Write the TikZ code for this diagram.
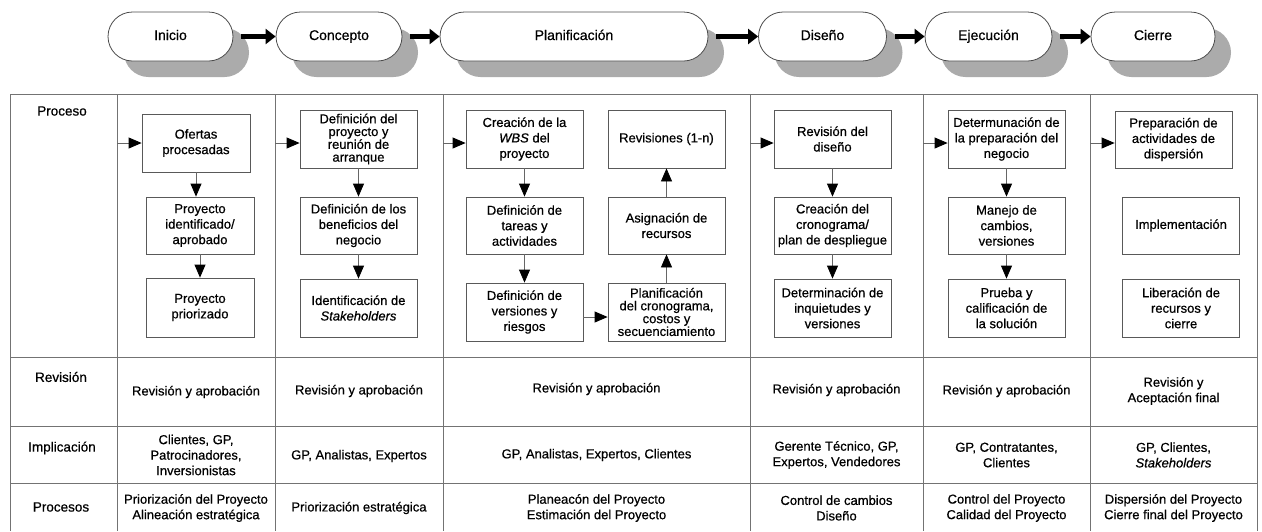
\documentclass[tikz,border=0pt]{standalone}
\usepackage{fontspec}
\setmainfont{Liberation Sans}[FakeBold=0.6]
\newfontfamily\heavy{Liberation Sans}[FakeBold=0.6]
\usetikzlibrary{arrows.meta,shadows}
\begin{document}
\begin{tikzpicture}[x=1pt,y=-1pt,
  pill/.style={draw=black!70, line width=0.8pt, fill=white, rounded corners=24.5pt,
    minimum height=49pt, inner sep=0pt, text height=10pt, text depth=3pt,
    font=\fontsize{14}{16}\selectfont,
    drop shadow={shadow xshift=16pt, shadow yshift=-16pt, fill=black!33, opacity=1}},
  bigarrow/.style={line width=4.5pt, shorten <=8pt, -{Triangle[length=10pt,width=15pt]}},
  box/.style={draw=black!65, line width=0.8pt, fill=white, minimum width=117pt,
    minimum height=57pt, inner sep=1pt, align=center, font=\fontsize{13}{15.5}\selectfont},
  tight/.style={font=\fontsize{13}{12.8}\selectfont},
  conn/.style={draw=black!60, line width=0.8pt, -{Triangle[length=13pt,width=11pt,color=black]}},
  grid/.style={draw=black!55, line width=0.9pt},
  rowlabel/.style={font=\fontsize{13.5}{15}\selectfont, inner sep=0pt},
  cell/.style={align=center, inner sep=0pt, font=\fontsize{13}{15.5}\selectfont}]
\useasboundingbox (0,0) rectangle (1262,531);

% header pills
\node[pill, minimum width=125pt] (hIni) at (170.5,36.5) {Inicio};
\node[pill, minimum width=126pt] (hCon) at (339,36.5) {Concepto};
\node[pill, minimum width=268pt] (hPla) at (574,36.5) {Planificación};
\node[pill, minimum width=128pt] (hDis) at (822.5,36.5) {Diseño};
\node[pill, minimum width=127pt] (hEje) at (988.5,36.5) {Ejecución};
\node[pill, minimum width=124pt] (hCie) at (1153,36.5) {Cierre};
\draw[bigarrow] (hIni.east) -- (hCon.west);
\draw[bigarrow] (hCon.east) -- (hPla.west);
\draw[bigarrow] (hPla.east) -- (hDis.west);
\draw[bigarrow] (hDis.east) -- (hEje.west);
\draw[bigarrow] (hEje.east) -- (hCie.west);

% table grid
\foreach \yy in {94,357,426,483} \draw[grid] (10,\yy) -- (1257,\yy);
\foreach \xx in {10,117,275,443,750,923,1090,1257} \draw[grid] (\xx,94) -- (\xx,531);

% row labels
\node[rowlabel] (lProc) at (62,111) {Proceso};
\node[rowlabel] (lRev) at (61,377) {Revisión};
\node[rowlabel] (lImp) at (62,448) {Implicación};
\node[rowlabel] (lPrs) at (61,507) {Procesos};

% Inicio
\node[box, minimum width=108pt, minimum height=58pt] (i1) at (196,143) {Ofertas\\procesadas};
\node[box, minimum width=108pt] (i2) at (200,225.5) {Proyecto\\identificado/\\aprobado};
\node[box, minimum width=108pt, minimum height=59pt] (i3) at (200,307.5) {Proyecto\\priorizado};
\draw[conn] (i1) -- (i1 |- i2.north);
\draw[conn] (i2) -- (i3);
\coordinate (ei) at (117,143);
\draw[conn] (ei) -- (i1.west);

% Concepto
\node[box, tight, minimum height=58pt] (c1) at (358.5,139) {Definición del\\proyecto y\\reunión de\\arranque};
\node[box] (c2) at (358.5,225.5) {Definición de los\\beneficios del\\negocio};
\node[box, minimum height=58pt] (c3) at (358.5,308) {Identificación de\\\textit{Stakeholders}};
\draw[conn] (c1) -- (c2);
\draw[conn] (c2) -- (c3);
\coordinate (ec) at (275,143);
\draw[conn] (ec) -- (ec -| c1.west);

% Planificacion
\node[box, minimum height=58pt] (p1) at (524.5,139) {Creación de la\\\textit{WBS} del\\proyecto};
\node[box, minimum height=58pt] (p2) at (666.5,139) {Revisiones (1-n)};
\node[box] (p3) at (524.5,225.5) {Definición de\\tareas y\\actividades};
\node[box] (p4) at (666.5,225.5) {Asignación de\\recursos};
\node[box, minimum height=58pt] (p5) at (524.5,312) {Definición de\\versiones y\\riesgos};
\node[box, tight, minimum height=58pt] (p6) at (666.5,312) {Planificación\\del cronograma,\\costos y\\secuenciamiento};
\draw[conn] (p1) -- (p3);
\draw[conn] (p3) -- (p5);
\draw[conn] ([yshift=-5pt]p5.east) -- ([yshift=-5pt]p6.west);
\draw[conn] (p6) -- (p4);
\draw[conn] (p4) -- (p2);
\coordinate (ep) at (443,143);
\draw[conn] (ep) -- (ep -| p1.west);

% Diseno
\node[box, minimum height=58pt] (d1) at (832.5,139) {Revisión del\\diseño};
\node[box] (d2) at (832.5,225.5) {Creación del\\cronograma/\\plan de despliegue};
\node[box, minimum height=58pt] (d3) at (832.5,308) {Determinación de\\inquietudes y\\versiones};
\draw[conn] (d1) -- (d2);
\draw[conn] (d2) -- (d3);
\coordinate (ed) at (750,143);
\draw[conn] (ed) -- (ed -| d1.west);

% Ejecucion
\node[box, minimum height=58pt] (e1) at (1006.5,139) {Determunación de\\la preparación del\\negocio};
\node[box] (e2) at (1006.5,225.5) {Manejo de\\cambios,\\versiones};
\node[box, minimum height=58pt] (e3) at (1006.5,308) {Prueba y\\calificación de\\la solución};
\draw[conn] (e1) -- (e2);
\draw[conn] (e2) -- (e3);
\coordinate (ee) at (923,143);
\draw[conn] (ee) -- (ee -| e1.west);

% Cierre
\node[box] (f1) at (1173.5,139.5) {Preparación de\\actividades de\\dispersión};
\node[box] (f2) at (1181,225.5) {Implementación};
\node[box, minimum height=58pt] (f3) at (1181,308) {Liberación de\\recursos y\\cierre};
\coordinate (ef) at (1090,143);
\draw[conn] (ef) -- (ef -| f1.west);

% Revision row
\node[cell] (r1) at (196,392) {Revisión y aprobación};
\node[cell] (r2) at (359,391) {Revisión y aprobación};
\node[cell] (r3) at (596.5,389) {Revisión y aprobación};
\node[cell] (r4) at (836.5,390) {Revisión y aprobación};
\node[cell] (r5) at (1006.5,391) {Revisión y aprobación};
\node[cell] (r6) at (1173.5,391) {Revisión y\\Aceptación final};

% Implicacion row
\node[cell] (m1) at (196,455) {Clientes, GP,\\Patrocinadores,\\Inversionistas};
\node[cell] (m2) at (359,456) {GP, Analistas, Expertos};
\node[cell] (m3) at (596.5,455) {GP, Analistas, Expertos, Clientes};
\node[cell] (m4) at (836.5,455) {Gerente Técnico, GP,\\Expertos, Vendedores};
\node[cell] (m5) at (1006.5,455) {GP, Contratantes,\\Clientes};
\node[cell] (m6) at (1173.5,455) {GP, Clientes,\\\textit{Stakeholders}};

% Procesos row
\node[cell] (q1) at (196,508) {Priorización del Proyecto\\Alineación estratégica};
\node[cell] (q2) at (359,508) {Priorización estratégica};
\node[cell] (q3) at (596.5,508) {Planeacón del Proyecto\\Estimación del Proyecto};
\node[cell] (q4) at (836.5,508) {Control de cambios\\Diseño};
\node[cell] (q5) at (1006.5,508) {Control del Proyecto\\Calidad del Proyecto};
\node[cell] (q6) at (1173.5,508) {Dispersión del Proyecto\\Cierre final del Proyecto};
\end{tikzpicture}
\end{document}
